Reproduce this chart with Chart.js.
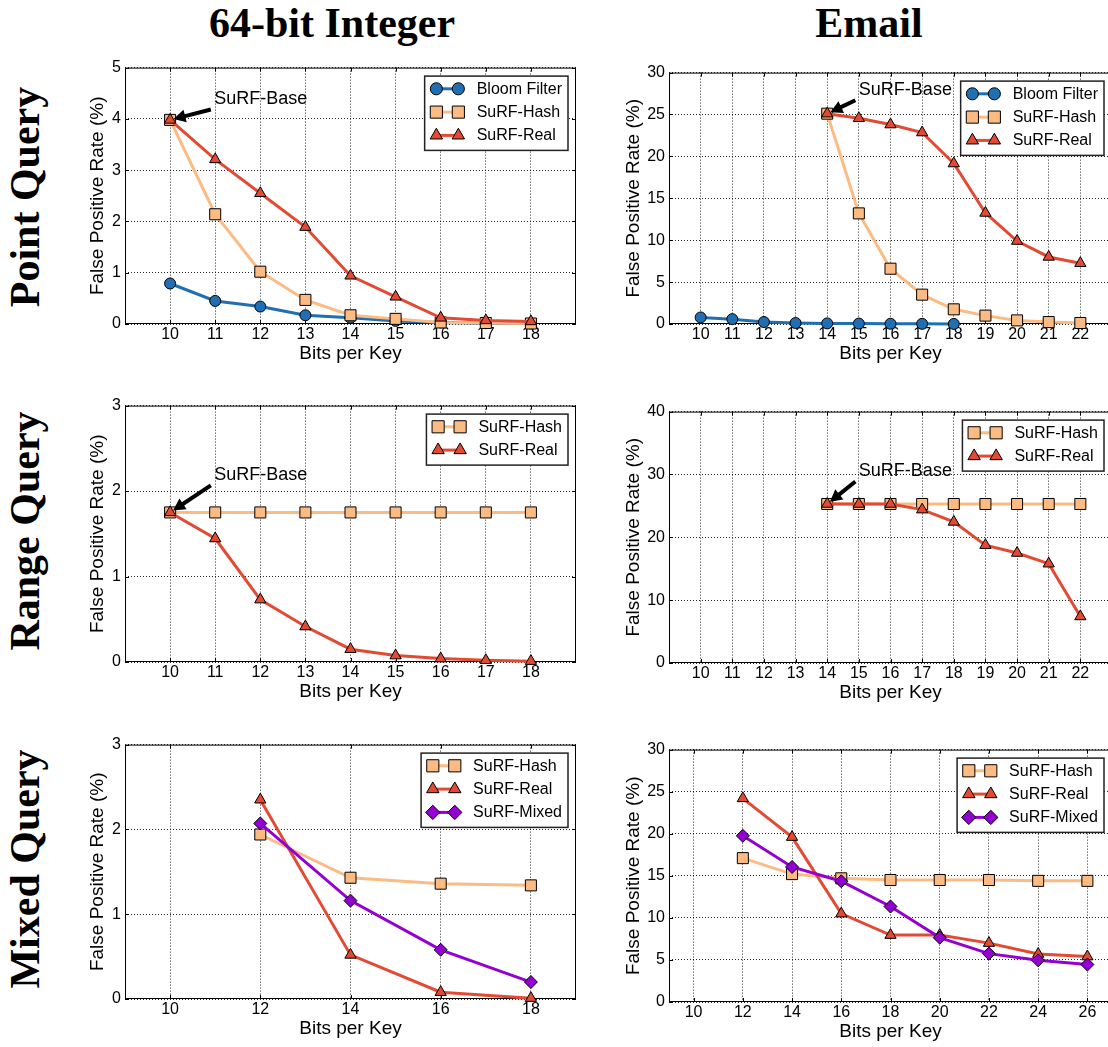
<!DOCTYPE html>
<html>
<head>
<meta charset="utf-8">
<title>SuRF false positive rate</title>
<script src="https://cdn.jsdelivr.net/npm/chart.js@4.4.0/dist/chart.umd.min.js"></script>
<style>
  html, body { margin: 0; padding: 0; background: #fff; overflow: hidden; width: 1108px; height: 1047px; }
  canvas { position: absolute; }
  .head { position: absolute; font: bold 42px "Liberation Serif", "Times New Roman", serif; line-height: 42px; height: 42px; white-space: nowrap; color: #000; text-align: center; }
  .col { top: 2px; width: 400px; }
  .row { width: 320px; transform: rotate(-90deg); }
</style>
</head>
<body>
<div class="head col" style="left:132px">64-bit Integer</div>
<div class="head col" style="left:669px">Email</div>
<div class="head row" style="left:-135px; top:176px">Point Query</div>
<div class="head row" style="left:-135px; top:510px">Range Query</div>
<div class="head row" style="left:-135px; top:848px">Mixed Query</div>

<script>
// ---- bits per key (x values) ----
const intBits = [10, 11, 12, 13, 14, 15, 16, 17, 18];
const emailBloomBits = [10, 11, 12, 13, 14, 15, 16, 17, 18];
const emailSurfBits = [14, 15, 16, 17, 18, 19, 20, 21, 22];
const intMixedBits = [12, 14, 16, 18];
const emailMixedBits = [12, 14, 16, 18, 20, 22, 24, 26];

// ---- tick labels ----
const intTicks = [10, 11, 12, 13, 14, 15, 16, 17, 18];
const emailTicks = [10, 11, 12, 13, 14, 15, 16, 17, 18, 19, 20, 21, 22];
const intMixedTicks = [10, 12, 14, 16, 18];
const emailMixedTicks = [10, 12, 14, 16, 18, 20, 22, 24, 26];
const pointIntYTicks = [0, 1, 2, 3, 4, 5];
const pointEmailYTicks = [0, 5, 10, 15, 20, 25, 30];
const rangeIntYTicks = [0, 1, 2, 3];
const rangeEmailYTicks = [0, 10, 20, 30, 40];
const mixedIntYTicks = [0, 1, 2, 3];
const mixedEmailYTicks = [0, 5, 10, 15, 20, 25, 30];

// ---- false positive rate (%) ----
const intPointBloom = [0.79, 0.45, 0.34, 0.17, 0.12, 0.06, 0.03, 0.015, 0.008];
const intPointHash = [3.98, 2.14, 1.02, 0.47, 0.17, 0.10, 0.03, 0.02, 0.01];
const intPointReal = [3.98, 3.21, 2.55, 1.89, 0.94, 0.53, 0.12, 0.07, 0.05];

const emailPointBloom = [0.78, 0.58, 0.23, 0.12, 0.07, 0.05, 0.03, 0.02, 0.01];
const emailPointHash = [25.1, 13.2, 6.6, 3.5, 1.75, 1.0, 0.43, 0.23, 0.12];
const emailPointReal = [25.1, 24.55, 23.8, 22.85, 19.15, 13.25, 9.9, 8.0, 7.25];

const intRangeHash = [1.75, 1.75, 1.75, 1.75, 1.75, 1.75, 1.75, 1.75, 1.75];
const intRangeReal = [1.75, 1.445, 0.73, 0.415, 0.15, 0.075, 0.04, 0.02, 0.01];

const emailRangeHash = [25.3, 25.3, 25.3, 25.3, 25.3, 25.3, 25.3, 25.3, 25.3];
const emailRangeReal = [25.3, 25.3, 25.3, 24.4, 22.45, 18.75, 17.5, 15.8, 7.4];

const intMixedHash = [1.94, 1.43, 1.36, 1.34];
const intMixedReal = [2.35, 0.52, 0.08, 0.01];
const intMixedMixed = [2.07, 1.16, 0.58, 0.2];

const emailMixedHash = [17.1, 15.2, 14.7, 14.5, 14.5, 14.5, 14.4, 14.4];
const emailMixedReal = [24.2, 19.6, 10.5, 7.95, 7.95, 7.0, 5.7, 5.4];
const emailMixedMixed = [19.75, 16.05, 14.35, 11.35, 7.65, 5.75, 4.95, 4.45];

const STYLES = {
    'Bloom Filter': { color: '#1f6fb2', shape: 'circle', radius: 5.5, order: 3 },
    'SuRF-Hash': { color: '#fdbb84', shape: 'rect', radius: 7.8, order: 2 },
    'SuRF-Real': { color: '#e34a33', shape: 'triangle', radius: 6.5, order: 1 },
    'SuRF-Mixed': { color: '#9400d3', shape: 'rectRot', radius: 6.5, order: 0 }
};

Chart.defaults.font.family = '"Liberation Sans", Arial, Helvetica, sans-serif';
Chart.defaults.color = '#000';

const PAD_TOP = 8;
const PAD_RIGHT = 10;
const X_AXIS_H = 41;

function drawMarker(ctx, shape, r, x, y) {
    ctx.beginPath();
    if (shape === 'circle') {
        ctx.arc(x, y, r, 0, Math.PI * 2);
    } else if (shape === 'rect') {
        const s = r * Math.SQRT1_2;
        ctx.rect(x - s, y - s, 2 * s, 2 * s);
    } else if (shape === 'triangle') {
        ctx.moveTo(x, y - r);
        ctx.lineTo(x + r * 0.866, y + r / 2);
        ctx.lineTo(x - r * 0.866, y + r / 2);
        ctx.closePath();
    } else {
        ctx.moveTo(x, y - r);
        ctx.lineTo(x + r, y);
        ctx.lineTo(x, y + r);
        ctx.lineTo(x - r, y);
        ctx.closePath();
    }
    ctx.fill();
    ctx.stroke();
}

// solid box round the plot plus short inward ticks on all four sides
const framePlugin = {
    id: 'frame',
    beforeDatasetsDraw(chart) {
        const { ctx, chartArea: a, scales } = chart;
        ctx.save();
        ctx.strokeStyle = '#000';
        ctx.lineWidth = 1;
        ctx.strokeRect(a.left + 0.5, a.top + 0.5, a.right - a.left - 1, a.bottom - a.top - 1);
        ctx.beginPath();
        for (const t of scales.x.ticks) {
            const px = Math.round(scales.x.getPixelForValue(t.value)) + 0.5;
            ctx.moveTo(px, a.bottom); ctx.lineTo(px, a.bottom - 4);
            ctx.moveTo(px, a.top); ctx.lineTo(px, a.top + 4);
        }
        for (const t of scales.y.ticks) {
            const py = Math.round(scales.y.getPixelForValue(t.value)) + 0.5;
            ctx.moveTo(a.left, py); ctx.lineTo(a.left + 4, py);
            ctx.moveTo(a.right, py); ctx.lineTo(a.right - 4, py);
        }
        ctx.stroke();
        ctx.restore();
    }
};

// "SuRF-Base" label with a black arrow pointing at the first SuRF point
const notePlugin = {
    id: 'note',
    afterDatasetsDraw(chart, args, opts) {
        if (!opts || opts.x === undefined) return;
        const { ctx, scales } = chart;
        const px = scales.x.getPixelForValue(opts.x);
        const py = scales.y.getPixelForValue(opts.y);
        const tx = scales.x.getPixelForValue(opts.tx);
        const ty = scales.y.getPixelForValue(opts.ty);
        ctx.save();
        ctx.font = '18px "Liberation Sans", Arial, sans-serif';
        ctx.fillStyle = '#000';
        ctx.textBaseline = 'alphabetic';
        ctx.textAlign = 'left';
        ctx.fillText(opts.text, tx, ty);

        const sx = tx - 3.5, sy = ty + 5.5;
        let dx = px - sx, dy = py - sy;
        const len = Math.hypot(dx, dy);
        dx /= len; dy /= len;
        const hx = px - dx * 3.5, hy = py - dy * 3.5;   // tip, slightly short of the point
        const bx = hx - dx * 12, by = hy - dy * 12;     // base of the head
        ctx.strokeStyle = '#000';
        ctx.lineWidth = 4;
        ctx.beginPath();
        ctx.moveTo(sx, sy);
        ctx.lineTo(bx + dx * 2, by + dy * 2);
        ctx.stroke();
        ctx.beginPath();
        ctx.moveTo(hx, hy);
        ctx.lineTo(bx - dy * 6.5, by + dx * 6.5);
        ctx.lineTo(bx + dy * 6.5, by - dx * 6.5);
        ctx.closePath();
        ctx.fill();
        ctx.restore();
    }
};

// boxed legend with marker-line-marker samples, upper right
const legendPlugin = {
    id: 'boxLegend',
    afterDraw(chart) {
        const { ctx, chartArea: a } = chart;
        const items = chart.data.datasets;
        ctx.save();
        ctx.font = '16px "Liberation Sans", Arial, sans-serif';
        const textW = Math.max(...items.map(d => ctx.measureText(d.label).width));
        const w = 52 + textW + 6;
        const h = 12.7 + 23.3 * (items.length - 1) + 15;
        const left = a.right - 8 - w;
        const top = a.top + 8.5;
        ctx.fillStyle = '#fff';
        ctx.fillRect(left, top, w, h);
        ctx.strokeStyle = '#222';
        ctx.lineWidth = 1.5;
        ctx.strokeRect(left, top, w, h);
        items.forEach((d, i) => {
            const st = STYLES[d.label];
            const y = top + 12.7 + 23.3 * i;
            ctx.strokeStyle = st.color;
            ctx.lineWidth = 3;
            ctx.beginPath();
            ctx.moveTo(left + 11.7, y);
            ctx.lineTo(left + 33.7, y);
            ctx.stroke();
            ctx.fillStyle = st.color;
            ctx.strokeStyle = '#000';
            ctx.lineWidth = 1;
            drawMarker(ctx, st.shape, st.radius * 1.1, left + 11.7, y);
            drawMarker(ctx, st.shape, st.radius * 1.1, left + 33.7, y);
            ctx.fillStyle = '#000';
            ctx.textBaseline = 'middle';
            ctx.fillText(d.label, left + 52, y + 0.5);
        });
        ctx.restore();
    }
};

function buildPanel({ area, yWidth, xMin, xMax, xTicks, yMax, yTicks, series, note }) {
    const canvas = document.createElement('canvas');
    const width = yWidth + (area.r - area.l) + PAD_RIGHT;
    const height = PAD_TOP + (area.b - area.t) + X_AXIS_H;
    canvas.width = width;
    canvas.height = height;
    canvas.style.left = (area.l - yWidth) + 'px';
    canvas.style.top = (area.t - PAD_TOP) + 'px';
    canvas.style.width = width + 'px';
    canvas.style.height = height + 'px';
    document.body.appendChild(canvas);

    const datasets = series.map(s => {
        const st = STYLES[s.name];
        return {
            label: s.name,
            data: s.xs.map((x, k) => ({ x: x, y: s.ys[k] })),
            borderColor: st.color,
            backgroundColor: st.color,
            borderWidth: 3,
            pointStyle: st.shape,
            pointRadius: st.radius,
            pointHoverRadius: st.radius,
            pointBackgroundColor: st.color,
            pointBorderColor: '#000',
            pointBorderWidth: 1,
            tension: 0,
            fill: false,
            clip: false,
            order: st.order
        };
    });

    const grid = { color: 'rgba(0,0,0,0.85)', lineWidth: 1, drawTicks: false };
    const border = { display: false, dash: [1, 2] };

    return new Chart(canvas, {
        type: 'line',
        data: { datasets },
        options: {
            responsive: false,
            animation: false,
            events: [],
            layout: { padding: { top: PAD_TOP, right: PAD_RIGHT, left: 0, bottom: 0 } },
            plugins: {
                legend: { display: false },
                tooltip: { enabled: false },
                note: note || {}
            },
            scales: {
                x: {
                    type: 'linear',
                    min: xMin,
                    max: xMax,
                    afterBuildTicks: sc => { sc.ticks = xTicks.map(v => ({ value: v })); },
                    afterFit: sc => { sc.height = X_AXIS_H; },
                    grid, border,
                    ticks: { padding: 1, font: { size: 16 }, color: '#000', maxRotation: 0, autoSkip: false },
                    title: { display: true, text: 'Bits per Key', font: { size: 19 }, color: '#000', padding: 0 }
                },
                y: {
                    type: 'linear',
                    min: 0,
                    max: yMax,
                    afterBuildTicks: sc => { sc.ticks = yTicks.map(v => ({ value: v })); },
                    afterFit: sc => { sc.width = yWidth; },
                    grid, border,
                    ticks: { padding: 4, font: { size: 16 }, color: '#000' },
                    title: { display: true, text: 'False Positive Rate (%)', font: { size: 19 }, color: '#000', padding: 0 }
                }
            }
        },
        plugins: [framePlugin, notePlugin, legendPlugin]
    });
}

// Point query
buildPanel({
    area: { l: 125, t: 62, r: 576, b: 324 }, yWidth: 39,
    xMin: 9, xMax: 19, xTicks: intTicks, yMax: 5, yTicks: pointIntYTicks,
    series: [
        { name: 'Bloom Filter', xs: intBits, ys: intPointBloom },
        { name: 'SuRF-Hash', xs: intBits, ys: intPointHash },
        { name: 'SuRF-Real', xs: intBits, ys: intPointReal }
    ],
    note: { text: 'SuRF-Base', x: 10, y: intPointReal[0], tx: 10.98, ty: 4.29 }
});
buildPanel({
    area: { l: 669, t: 67, r: 1112, b: 324 }, yWidth: 47,
    xMin: 9, xMax: 23, xTicks: emailTicks, yMax: 30, yTicks: pointEmailYTicks,
    series: [
        { name: 'Bloom Filter', xs: emailBloomBits, ys: emailPointBloom },
        { name: 'SuRF-Hash', xs: emailSurfBits, ys: emailPointHash },
        { name: 'SuRF-Real', xs: emailSurfBits, ys: emailPointReal }
    ],
    note: { text: 'SuRF-Base', x: 14, y: emailPointReal[0], tx: 15.0, ty: 27.35 }
});

// Range query
buildPanel({
    area: { l: 125, t: 400, r: 576, b: 662 }, yWidth: 39,
    xMin: 9, xMax: 19, xTicks: intTicks, yMax: 3, yTicks: rangeIntYTicks,
    series: [
        { name: 'SuRF-Hash', xs: intBits, ys: intRangeHash },
        { name: 'SuRF-Real', xs: intBits, ys: intRangeReal }
    ],
    note: { text: 'SuRF-Base', x: 10, y: intRangeReal[0], tx: 10.98, ty: 2.13 }
});
buildPanel({
    area: { l: 669, t: 406, r: 1112, b: 663 }, yWidth: 47,
    xMin: 9, xMax: 23, xTicks: emailTicks, yMax: 40, yTicks: rangeEmailYTicks,
    series: [
        { name: 'SuRF-Hash', xs: emailSurfBits, ys: emailRangeHash },
        { name: 'SuRF-Real', xs: emailSurfBits, ys: emailRangeReal }
    ],
    note: { text: 'SuRF-Base', x: 14, y: emailRangeReal[0], tx: 15.0, ty: 29.75 }
});

// Mixed query
buildPanel({
    area: { l: 125, t: 739, r: 576, b: 999 }, yWidth: 39,
    xMin: 9, xMax: 19, xTicks: intMixedTicks, yMax: 3, yTicks: mixedIntYTicks,
    series: [
        { name: 'SuRF-Hash', xs: intMixedBits, ys: intMixedHash },
        { name: 'SuRF-Real', xs: intMixedBits, ys: intMixedReal },
        { name: 'SuRF-Mixed', xs: intMixedBits, ys: intMixedMixed }
    ]
});
buildPanel({
    area: { l: 669, t: 744, r: 1112, b: 1002 }, yWidth: 47,
    xMin: 9, xMax: 27, xTicks: emailMixedTicks, yMax: 30, yTicks: mixedEmailYTicks,
    series: [
        { name: 'SuRF-Hash', xs: emailMixedBits, ys: emailMixedHash },
        { name: 'SuRF-Real', xs: emailMixedBits, ys: emailMixedReal },
        { name: 'SuRF-Mixed', xs: emailMixedBits, ys: emailMixedMixed }
    ]
});
</script>
</body>
</html>
